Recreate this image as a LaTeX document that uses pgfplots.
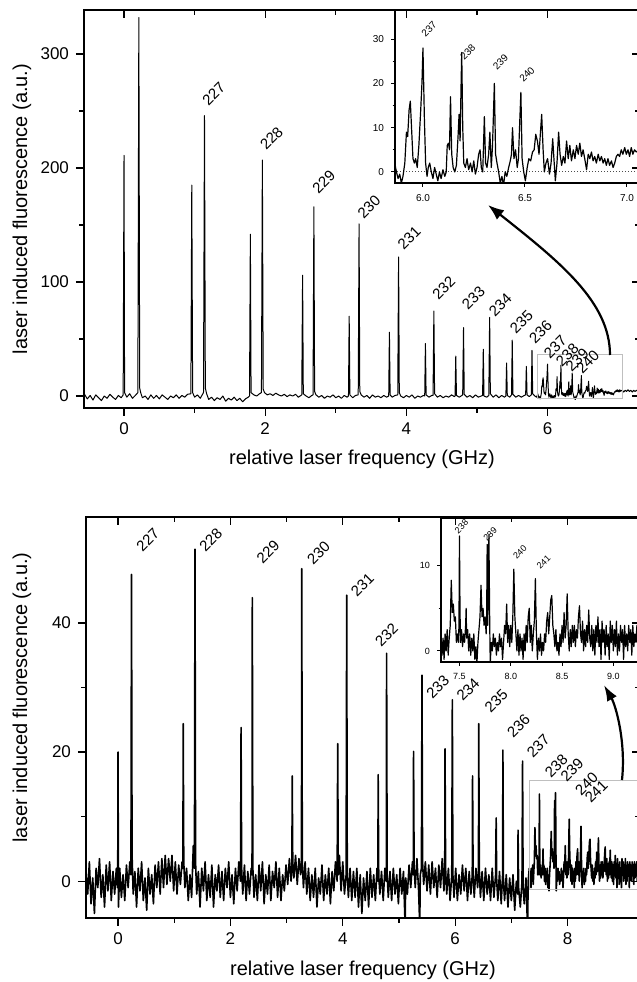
\documentclass[border=0pt]{standalone}
\usepackage{pgfplots}
\pgfplotsset{compat=1.18}
\usepackage{pgfplotstable}
\usepackage{fontspec}
\setmainfont{Liberation Sans}
\usetikzlibrary{arrows.meta}

% upper spectrum (scan 1)
\pgfplotstableread[row sep=\\]{
x y\\
-0.56 1.5\\ -0.52 -2.5\\ -0.48 0.5\\ -0.44 -3.5\\ -0.40 1\\ -0.36 -1.5\\ -0.32 -4\\ -0.28 0\\ -0.24 -2\\ -0.20 1.5\\ -0.16 -1\\ -0.12 -3\\ -0.08 0.5\\ -0.04 -1.5\\ -0.012 1\\
0 211\\ 0.008 3\\ 0.04 -1\\ 0.08 2\\ 0.12 -2\\ 0.16 0.5\\ 0.196 3\\ 0.21 332\\ 0.222 7\\ 0.236 3\\ 0.26 -1.5\\ 0.30 0\\ 0.34 -3\\ 0.38 1\\ 0.42 -2\\ 0.46 0.5\\ 0.50 -2.5\\ 0.54 1\\ 0.58 -1\\ 0.62 -3\\ 0.66 0\\ 0.70 -1.5\\ 0.74 1\\ 0.78 -2\\ 0.82 0.5\\ 0.86 -1\\ 0.90 1.5\\
0.947 2\\ 0.96 185\\ 0.972 3\\ 1.00 -1\\ 1.04 1\\ 1.08 -2\\ 1.126 3\\ 1.14 246\\ 1.152 7\\ 1.17 2\\ 1.20 -3\\ 1.24 -1\\ 1.28 -4\\ 1.32 -1.5\\ 1.36 -3\\ 1.40 0\\ 1.44 -4.5\\ 1.48 -2\\ 1.52 -3.5\\ 1.56 -1\\ 1.60 -4\\ 1.64 -2\\ 1.68 -5\\ 1.72 -2.5\\ 1.76 -1\\
1.778 0\\ 1.79 142\\ 1.80 3\\ 1.84 1\\ 1.88 0\\ 1.92 2\\ 1.947 3\\ 1.96 207\\ 1.972 6\\ 1.99 3\\ 2.03 1\\ 2.07 2\\ 2.11 0.5\\ 2.15 2.5\\ 2.19 1\\ 2.23 0\\ 2.27 1.5\\ 2.31 -0.5\\ 2.35 1\\ 2.39 0\\ 2.43 1.5\\ 2.47 -1\\
2.518 1\\ 2.53 106\\ 2.54 2\\ 2.58 0\\ 2.62 -1.5\\ 2.66 0.5\\ 2.678 1\\ 2.69 166\\ 2.70 4\\ 2.72 1\\ 2.76 -1\\ 2.80 0.5\\ 2.84 -2\\ 2.88 0\\ 2.92 -1\\ 2.96 1\\ 3.00 -1.5\\ 3.04 0\\ 3.08 -2\\ 3.12 0.5\\ 3.16 -1\\
3.18 0\\ 3.19 70\\ 3.20 1\\ 3.24 -1.5\\ 3.28 0.5\\ 3.318 1\\ 3.33 151\\ 3.34 4\\ 3.36 1\\ 3.40 -1\\ 3.44 0.5\\ 3.48 -2\\ 3.52 1\\ 3.56 -1\\ 3.60 0\\ 3.64 -1.5\\ 3.68 0.5\\ 3.72 -1\\
3.75 0\\ 3.76 56\\ 3.77 1\\ 3.80 -1\\ 3.84 0.5\\ 3.878 1\\ 3.89 122\\ 3.90 3\\ 3.92 0\\ 3.96 -1.5\\ 4.00 0.5\\ 4.04 -1\\ 4.08 1\\ 4.12 -2\\ 4.16 0\\ 4.20 -1\\ 4.24 0.5\\
4.26 0\\ 4.27 46\\ 4.28 1\\ 4.32 -1\\ 4.36 0.5\\ 4.378 0.5\\ 4.39 74.5\\ 4.40 2\\ 4.44 -1\\ 4.48 0.5\\ 4.52 -1.5\\ 4.56 0\\ 4.60 -1\\ 4.64 1\\ 4.68 -0.5\\
4.69 0\\ 4.70 35\\ 4.71 0.5\\ 4.75 -1\\ 4.798 1\\ 4.81 60\\ 4.82 1.5\\ 4.86 -1\\ 4.90 0.5\\ 4.94 -1.5\\ 4.98 1\\ 5.02 -1\\ 5.06 0\\
5.08 0.5\\ 5.09 41\\ 5.10 0\\ 5.14 -1\\ 5.168 0.5\\ 5.18 69\\ 5.19 2\\ 5.23 -1\\ 5.27 1\\ 5.31 -1.5\\ 5.35 0.5\\ 5.39 -1\\
5.41 0\\ 5.42 29\\ 5.43 0.5\\ 5.465 -1\\ 5.49 1\\ 5.50 49\\ 5.51 1.5\\ 5.55 -1\\ 5.59 0.5\\ 5.63 -1\\ 5.67 0.5\\
5.69 1\\ 5.70 26\\ 5.71 1\\ 5.74 -0.5\\ 5.77 1\\ 5.78 40\\ 5.79 2\\ 5.82 0\\ 5.845 -1\\
5.862 1.9\\ 5.870 0\\ 5.878 -1.5\\ 5.886 -0.5\\ 5.894 -2.5\\ 5.902 -1\\ 5.911 2\\ 5.919 9\\ 5.925 8\\ 5.932 14\\ 5.938 16\\ 5.945 9\\ 5.951 3\\ 5.958 2\\ 5.964 3\\ 5.972 1\\ 5.980 6\\ 5.989 14\\ 5.995 20\\ 6.000 28\\ 6.007 12\\ 6.013 2\\ 6.020 -1\\ 6.026 1\\ 6.033 2\\ 6.041 0\\ 6.049 -1.5\\ 6.057 1\\ 6.065 -0.5\\ 6.073 -2\\ 6.081 0\\ 6.089 -1.5\\ 6.098 0.5\\ 6.107 -1\\ 6.114 0\\
6.119 6\\ 6.125 6.5\\ 6.130 5\\ 6.135 17\\ 6.141 4\\ 6.148 1\\ 6.156 0\\ 6.164 1.5\\ 6.172 8\\ 6.177 13\\ 6.182 7\\ 6.187 20\\ 6.190 27\\ 6.195 10\\ 6.200 2\\ 6.208 1\\ 6.216 3\\ 6.224 0.5\\ 6.233 2\\ 6.241 0\\ 6.249 2.5\\ 6.257 -0.5\\ 6.265 1\\ 6.273 4\\ 6.280 5\\ 6.286 1\\ 6.293 0\\
6.301 12.5\\ 6.307 2\\ 6.314 1\\ 6.322 4\\ 6.328 9\\ 6.335 1\\ 6.341 6\\ 6.350 20\\ 6.356 4\\ 6.363 2\\ 6.371 0\\ 6.379 -2.5\\ 6.387 -1\\ 6.395 -3\\ 6.403 0\\ 6.411 -1\\ 6.420 1\\ 6.428 2.5\\ 6.434 4\\ 6.439 10\\ 6.446 3\\ 6.454 5\\ 6.462 1\\ 6.468 3\\ 6.475 12\\ 6.480 18\\ 6.486 3\\ 6.494 0\\ 6.502 -2\\
6.511 1\\ 6.519 3\\ 6.528 2.5\\ 6.537 4.5\\ 6.545 5\\ 6.553 8.5\\ 6.561 7\\ 6.569 4\\ 6.576 9\\ 6.582 13\\ 6.589 5\\ 6.595 0\\ 6.603 2\\ 6.611 3\\ 6.620 -0.5\\ 6.628 2\\ 6.636 7.5\\ 6.642 3\\ 6.649 -2\\ 6.657 2\\ 6.665 9\\ 6.672 4\\ 6.680 1.5\\ 6.688 3.5\\ 6.696 2\\ 6.704 7\\ 6.712 3\\ 6.720 6\\ 6.728 2.5\\ 6.737 5\\ 6.745 3\\ 6.753 6\\ 6.761 4\\ 6.769 6.5\\ 6.777 3.5\\ 6.785 5\\ 6.793 3\\ 6.802 0.5\\
6.810 4\\ 6.818 3\\ 6.826 4.5\\ 6.834 2.5\\ 6.842 3.5\\ 6.850 2\\ 6.859 4\\ 6.867 2.5\\ 6.875 3.5\\ 6.883 2\\ 6.891 3\\ 6.899 1.5\\ 6.907 3\\ 6.915 1.5\\ 6.924 2.5\\ 6.932 1\\ 6.940 2\\ 6.948 3.5\\ 6.956 4\\ 6.964 3.5\\ 6.972 5\\ 6.980 4\\ 6.989 5.5\\ 6.997 4\\ 7.005 5\\ 7.013 3.5\\ 7.021 5.5\\ 7.029 4\\ 7.037 5\\ 7.046 4.5\\
7.06 5\\ 7.08 3.5\\ 7.10 5\\ 7.12 4\\ 7.14 5.5\\ 7.16 4\\ 7.18 5\\ 7.20 3.5\\ 7.22 5\\ 7.24 4\\ 7.26 5\\ 7.28 4\\ 7.30 4.5\\ 7.32 4\\
}\topdata

% lower spectrum (scan 2)
\pgfplotstableread[row sep=\\]{
x y\\
-0.57 1.5\\ -0.54 -2\\ -0.51 3\\ -0.48 -3.5\\ -0.45 0.5\\ -0.42 -5\\ -0.39 2\\ -0.36 -1\\ -0.33 3.5\\ -0.30 -2.5\\ -0.27 1\\ -0.24 -4\\ -0.21 2.5\\ -0.18 -1.5\\ -0.15 3\\ -0.12 -3\\ -0.09 1.5\\ -0.06 -2\\ -0.03 2\\ -0.01 -1\\
-0.005 1\\ 0 20\\ 0.008 -4\\ 0.03 2\\ 0.06 -2.5\\ 0.09 1\\ 0.12 -3\\ 0.15 2.5\\ 0.18 -1\\ 0.21 3\\ 0.23 1\\ 0.24 47.5\\ 0.25 4\\ 0.27 -2\\ 0.30 1.5\\ 0.33 -4\\ 0.36 2\\ 0.39 -1.5\\ 0.42 3\\ 0.45 -3\\ 0.48 0.5\\ 0.51 -4.5\\ 0.54 2\\ 0.57 -2\\ 0.60 1\\ 0.63 -3.5\\ 0.66 2.5\\ 0.69 -1\\ 0.72 3\\ 0.75 -2\\ 0.78 3.5\\ 0.81 -1\\ 0.84 4\\ 0.87 -0.5\\ 0.90 3.5\\ 0.93 0\\ 0.96 4\\ 0.99 -1.5\\ 1.02 3\\ 1.05 -2\\ 1.08 2.5\\ 1.11 -0.5\\ 1.14 3\\
1.155 2\\ 1.16 24.4\\ 1.17 3\\ 1.19 -1\\ 1.22 2\\ 1.25 -3\\ 1.28 1\\ 1.31 -2.5\\ 1.34 5.5\\ 1.36 2\\ 1.37 51.4\\ 1.38 3\\ 1.40 -2\\ 1.43 1.5\\ 1.46 -4\\ 1.49 2\\ 1.52 -1.5\\ 1.55 3\\ 1.58 -3\\ 1.61 1\\ 1.64 -2.5\\ 1.67 2.5\\ 1.70 -4\\ 1.73 1\\ 1.76 -1.5\\ 1.79 2.5\\ 1.82 -2.5\\ 1.85 1.5\\ 1.88 -3\\ 1.91 2\\ 1.94 -1\\ 1.97 3\\ 2.00 -2.5\\ 2.03 1\\ 2.06 -3.5\\ 2.09 2\\ 2.12 -1.5\\ 2.15 3\\
2.18 0\\ 2.19 23.8\\ 2.20 2\\ 2.22 -2\\ 2.25 2.5\\ 2.28 -3\\ 2.31 1.5\\ 2.34 -2\\ 2.37 2\\ 2.385 1\\ 2.39 43.9\\ 2.40 2\\ 2.42 -2.5\\ 2.45 1\\ 2.48 -3\\ 2.51 2.5\\ 2.54 -1.5\\ 2.57 3\\ 2.60 -3.5\\ 2.63 1\\ 2.66 -2\\ 2.69 2.5\\ 2.72 -3\\ 2.75 1.5\\ 2.78 -1\\ 2.81 3\\ 2.84 -2.5\\ 2.87 2\\ 2.90 -3\\ 2.93 1\\ 2.96 -1.5\\ 2.99 2.5\\ 3.02 -0.5\\ 3.05 3.5\\ 3.08 0\\
3.095 2\\ 3.10 16.3\\ 3.11 3\\ 3.13 0.5\\ 3.16 4\\ 3.19 -0.5\\ 3.22 3.5\\ 3.25 1\\ 3.265 2\\ 3.27 48.4\\ 3.28 3\\ 3.30 -1\\ 3.33 3\\ 3.36 -2\\ 3.39 2\\ 3.42 -3\\ 3.45 1\\ 3.48 -2.5\\ 3.51 2\\ 3.54 -4\\ 3.57 0.5\\ 3.60 -2\\ 3.63 2.5\\ 3.66 -3\\ 3.69 1\\ 3.72 -2\\ 3.75 2\\ 3.78 -3.5\\ 3.81 1.5\\ 3.84 -1.5\\ 3.87 3\\
3.90 0\\ 3.91 21.3\\ 3.92 1\\ 3.94 4\\ 3.97 -1.5\\ 4.00 3\\ 4.03 -2\\ 4.06 1\\ 4.07 44.3\\ 4.08 1\\ 4.10 -2.5\\ 4.13 2\\ 4.16 -3\\ 4.19 1.5\\ 4.22 -2.5\\ 4.25 2\\ 4.28 -4\\ 4.31 1\\ 4.34 -5\\ 4.37 0.5\\ 4.40 -3\\ 4.43 1.5\\ 4.46 -4\\ 4.49 2\\ 4.52 -2.5\\ 4.55 1\\ 4.58 -3\\ 4.61 2\\
4.625 0\\ 4.63 16.5\\ 4.64 1\\ 4.66 -2\\ 4.69 1.5\\ 4.72 -3\\ 4.75 2\\ 4.775 0\\ 4.78 35.3\\ 4.79 1\\ 4.81 -2.5\\ 4.84 1.5\\ 4.87 -3\\ 4.90 2\\ 4.93 -2\\ 4.96 1\\ 4.99 -3.5\\ 5.02 2\\ 5.05 -2\\ 5.08 1.5\\ 5.11 -7\\ 5.12 0.5\\ 5.15 -2\\ 5.18 2.5\\ 5.21 -1\\ 5.24 3\\
5.255 1\\ 5.26 20.1\\ 5.27 2\\ 5.29 -1\\ 5.32 3.5\\ 5.35 -1.5\\ 5.37 -7\\ 5.38 1\\ 5.40 2\\ 5.41 31.9\\ 5.42 3\\ 5.44 -0.5\\ 5.47 3\\ 5.50 -1.5\\ 5.53 2.5\\ 5.56 -2\\ 5.59 3\\ 5.62 -1\\ 5.65 2\\ 5.68 -2.5\\ 5.71 2.5\\ 5.74 -1\\ 5.77 3.5\\ 5.80 -1.5\\
5.815 1\\ 5.82 20.5\\ 5.83 2\\ 5.85 -2\\ 5.88 2\\ 5.91 -3\\ 5.94 1\\ 5.95 28.1\\ 5.96 1\\ 5.98 -2.5\\ 6.01 2\\ 6.04 -3\\ 6.07 1\\ 6.10 -2\\ 6.13 2.5\\ 6.16 -1.5\\ 6.19 2\\ 6.22 -3\\ 6.25 1.5\\ 6.28 -2\\
6.305 1\\ 6.31 16.3\\ 6.32 1\\ 6.34 -2.5\\ 6.37 2\\ 6.40 -1\\ 6.415 1\\ 6.42 24.4\\ 6.43 2\\ 6.45 -2.5\\ 6.48 1.5\\ 6.51 -3\\ 6.54 2\\ 6.57 -2\\ 6.60 1\\ 6.63 -3\\ 6.66 2\\ 6.69 -2.5\\ 6.72 1\\
6.73 9.8\\ 6.74 0\\ 6.76 -3\\ 6.79 1.5\\ 6.82 -3.5\\ 6.845 1\\ 6.85 20.3\\ 6.86 0\\ 6.88 -3\\ 6.91 1\\ 6.94 -4\\ 6.97 0.5\\ 7.00 -3\\ 7.03 1\\ 7.06 -4.5\\ 7.09 0\\ 7.115 -2\\ 7.12 7.9\\ 7.13 -1\\ 7.16 -4\\ 7.19 0\\ 7.20 18.6\\ 7.21 -1\\ 7.23 -3.5\\ 7.26 0.5\\ 7.28 -5\\ 7.29 -7\\ 7.30 0\\
7.32 2\\ 7.33 -0.5\\ 7.34 1.5\\ 7.35 -1\\ 7.36 2\\ 7.37 0\\ 7.38 2.5\\ 7.39 -0.5\\ 7.40 1.5\\ 7.41 3\\ 7.42 8.3\\ 7.43 4.5\\ 7.44 5.5\\ 7.45 3.5\\ 7.46 4\\ 7.47 1\\ 7.48 2\\ 7.49 1\\ 7.495 3\\ 7.50 13.5\\ 7.505 5\\ 7.51 1\\ 7.52 2.5\\ 7.53 0.5\\ 7.54 2\\ 7.55 1\\ 7.56 3\\ 7.565 5\\ 7.57 1.5\\ 7.58 2.5\\ 7.59 0\\ 7.60 2\\ 7.61 -0.5\\ 7.62 1.5\\ 7.63 0\\ 7.64 2\\ 7.65 -1\\ 7.66 0.5\\ 7.67 -1.5\\ 7.68 1\\ 7.69 2.5\\ 7.70 4\\ 7.71 7.7\\ 7.72 4\\ 7.73 5\\ 7.74 3\\ 7.75 4\\ 7.76 2\\ 7.765 4\\ 7.77 12.5\\ 7.775 3\\ 7.78 6\\ 7.787 13.7\\ 7.795 3\\ 7.80 -1.5\\
7.81 1\\ 7.82 0\\ 7.83 2\\ 7.84 0.5\\ 7.85 1.5\\ 7.86 -0.5\\ 7.87 1\\ 7.88 0\\ 7.89 2\\ 7.90 0.5\\ 7.91 1.5\\ 7.92 -1\\ 7.93 1\\ 7.94 3\\ 7.95 2\\ 7.96 5.5\\ 7.97 1\\ 7.98 3\\ 7.99 0.5\\ 8.00 3\\ 8.01 1\\ 8.02 4\\ 8.03 9.6\\ 8.04 4\\ 8.05 2\\ 8.06 0\\ 8.07 2.5\\ 8.08 -0.5\\ 8.09 2\\ 8.10 0\\ 8.11 1.5\\ 8.12 -1\\ 8.13 2\\ 8.14 0\\ 8.15 3\\ 8.16 1\\ 8.17 4\\ 8.18 5\\ 8.19 1\\ 8.20 3\\ 8.21 0\\ 8.22 2\\ 8.23 3.5\\ 8.24 8.5\\ 8.25 2\\ 8.26 -1\\
8.27 1.5\\ 8.28 0\\ 8.29 2\\ 8.30 -0.5\\ 8.31 1\\ 8.32 0\\ 8.33 2\\ 8.34 1\\ 8.35 3.5\\ 8.36 4.5\\ 8.37 2\\ 8.38 4\\ 8.39 6\\ 8.40 6.5\\ 8.41 3\\ 8.42 2\\ 8.43 0.5\\ 8.44 2.5\\ 8.45 0\\ 8.46 1\\ 8.47 -0.5\\ 8.48 2\\ 8.49 0.5\\ 8.50 3\\ 8.51 1\\ 8.52 4.5\\ 8.53 1.5\\ 8.54 3\\ 8.55 6.7\\ 8.56 2\\ 8.57 0\\ 8.58 2.5\\ 8.59 0.5\\ 8.60 3\\ 8.61 1\\ 8.62 3\\ 8.63 0.5\\ 8.64 2.5\\ 8.65 1.5\\ 8.66 4\\ 8.67 5.3\\ 8.68 2\\ 8.69 1\\ 8.70 3.5\\ 8.71 0\\ 8.72 2.5\\ 8.73 0.5\\ 8.74 3\\ 8.75 1\\ 8.76 4.8\\ 8.77 1.5\\ 8.78 0.5\\
8.79 3\\ 8.80 0\\ 8.81 2.5\\ 8.82 -0.5\\ 8.83 3\\ 8.84 1\\ 8.85 4\\ 8.86 0.5\\ 8.87 2.5\\ 8.88 -1\\ 8.89 3.5\\ 8.90 1\\ 8.91 2.5\\ 8.92 -0.5\\ 8.93 3\\ 8.94 0.5\\ 8.95 2\\ 8.96 -1\\ 8.97 3.5\\ 8.98 1\\ 8.99 3\\ 9.00 0\\ 9.01 2.5\\ 9.02 0.5\\ 9.03 3.5\\ 9.04 -0.5\\ 9.05 2\\ 9.06 0\\ 9.07 3\\ 9.08 1\\ 9.09 2.5\\ 9.10 -1\\ 9.11 3\\ 9.12 0.5\\ 9.13 2\\ 9.14 0\\ 9.15 3\\ 9.16 1\\ 9.17 2.5\\ 9.18 -0.5\\ 9.19 3\\ 9.20 0.5\\ 9.21 2\\ 9.22 1\\ 9.23 3\\ 9.24 0\\ 9.25 2\\ 9.26 1\\ 9.28 2.5\\ 9.30 0\\
}\botdata

\pgfplotsset{
  panel/.style={scale only axis, axis line style={line width=0.8pt},
    tick style={line width=0.6pt, black}, major tick length=4pt, minor tick length=2.4pt,
    tick align=outside, tick pos=left, minor x tick num=1, minor y tick num=1,
    /pgf/number format/assume math mode=true,
    tick label style={font=\fontsize{8.5}{10}\selectfont},
    label style={font=\fontsize{10}{12}\selectfont}},
  mirror/.style={scale only axis, axis line style={line width=0.8pt},
    tick style={line width=0.6pt, black}, major tick length=4pt, minor tick length=2.4pt,
    tick align=inside, tick pos=right, minor x tick num=1, minor y tick num=1,
    xticklabels={}, yticklabels={}},
  inset/.style={scale only axis, axis line style={line width=0.6pt},
    tick style={line width=0.5pt, black}, major tick length=2pt, minor tick length=1.2pt,
    tick align=outside, tick pos=left, minor y tick num=1,
    /pgf/number format/assume math mode=true,
    tick label style={font=\fontsize{5}{6}\selectfont},
    xticklabel style={/pgf/number format/.cd, fixed, fixed zerofill, precision=1}},
  trace/.style={black, line width=0.5pt, line join=round},
}
\tikzset{
  lab/.style={font=\fontsize{7.5}{8}\selectfont, rotate=45, inner sep=0pt},
  slab/.style={font=\fontsize{5}{6}\selectfont, rotate=45, inner sep=0pt},
}

\begin{document}
\begin{tikzpicture}
\useasboundingbox (0,0) rectangle (318.5pt,491pt);
\clip (0,0) rectangle (318.5pt,491pt);

% ---- upper panel
\begin{axis}[panel, at={(42pt,287pt)}, anchor=south west, width=278pt, height=199pt,
  xmin=-0.567, xmax=7.31, ymin=-10.5, ymax=338.6,
  xtick={0,2,4,6}, ytick={0,100,200,300},
  xlabel={relative laser frequency (GHz)}, ylabel={laser induced fluorescence (a.u.)},
  xlabel style={at={(axis description cs:0.5,-0.13)}, anchor=center},
  ylabel style={at={(axis description cs:-0.1115,0.5)}, anchor=center}]
\addplot[trace] table[x=x, y=y] {\topdata};
\draw[gray!50, line width=0.6pt] (axis cs:5.86,-2.5) rectangle (axis cs:7.06,36.6);
\node[lab] at (axis cs:1.27,265) {227};
\node[lab] at (axis cs:2.09,226) {228};
\node[lab] at (axis cs:2.83,188) {229};
\node[lab] at (axis cs:3.47,166) {230};
\node[lab] at (axis cs:4.04,139) {231};
\node[lab] at (axis cs:4.53,95) {232};
\node[lab] at (axis cs:4.95,86) {233};
\node[lab] at (axis cs:5.33,80) {234};
\node[lab] at (axis cs:5.63,65) {235};
\node[lab] at (axis cs:5.90,56) {236};
\node[lab] at (axis cs:6.11,43) {237};
\node[lab] at (axis cs:6.28,36) {238};
\node[lab] at (axis cs:6.42,32) {239};
\node[lab] at (axis cs:6.57,30) {240};
\end{axis}
\begin{axis}[mirror, at={(42pt,287pt)}, anchor=south west, width=278pt, height=199pt,
  xmin=-0.567, xmax=7.31, ymin=-10.5, ymax=338.6,
  xtick={0,2,4,6}, ytick={0,100,200,300}]
\end{axis}

% upper inset
\begin{axis}[inset, at={(197.5pt,399.5pt)}, anchor=south west, width=122.5pt, height=86.5pt,
  xmin=5.863, xmax=7.064, ymin=-2.5, ymax=36.6,
  xtick={6,6.5,7}, ytick={0,10,20,30}]
\addplot[densely dotted, line width=0.5pt, black!70] coordinates {(5.8,0) (7.1,0)};
\addplot[trace, line width=0.6pt] table[x=x, y=y] {\topdata};
\node[slab] at (axis cs:6.03,32.3) {237};
\node[slab] at (axis cs:6.22,27) {238};
\node[slab] at (axis cs:6.38,24.9) {239};
\node[slab] at (axis cs:6.51,22) {240};
\end{axis}

% ---- lower panel
\begin{axis}[panel, at={(43pt,32pt)}, anchor=south west, width=277pt, height=200.5pt,
  xmin=-0.57, xmax=9.29, ymin=-5.7, ymax=56.4,
  xtick={0,2,4,6,8}, ytick={0,20,40},
  xlabel={relative laser frequency (GHz)}, ylabel={laser induced fluorescence (a.u.)},
  xlabel style={at={(axis description cs:0.5,-0.13)}, anchor=center},
  ylabel style={at={(axis description cs:-0.1155,0.55)}, anchor=center}]
\addplot[trace, line width=0.8pt] table[x=x, y=y] {\botdata};
\draw[gray!50, line width=0.6pt] (axis cs:7.32,-1.3) rectangle (axis cs:9.26,15.6);
\node[lab] at (axis cs:0.53,52.9) {227};
\node[lab] at (axis cs:1.65,52.9) {228};
\node[lab] at (axis cs:2.67,51.0) {229};
\node[lab] at (axis cs:3.57,50.9) {230};
\node[lab] at (axis cs:4.35,45.9) {231};
\node[lab] at (axis cs:4.78,38.2) {232};
\node[lab] at (axis cs:5.69,30.1) {233};
\node[lab] at (axis cs:6.23,29.7) {234};
\node[lab] at (axis cs:6.73,27.9) {235};
\node[lab] at (axis cs:7.13,24.1) {236};
\node[lab] at (axis cs:7.48,21.0) {237};
\node[lab] at (axis cs:7.80,17.9) {238};
\node[lab] at (axis cs:8.08,17.2) {239};
\node[lab] at (axis cs:8.34,15.1) {240};
\node[lab] at (axis cs:8.51,13.9) {241};
\end{axis}
\begin{axis}[mirror, at={(43pt,32pt)}, anchor=south west, width=277pt, height=200.5pt,
  xmin=-0.57, xmax=9.29, ymin=-5.7, ymax=56.4,
  xtick={0,2,4,6,8}, ytick={0,20,40}]
\end{axis}

% lower inset
\begin{axis}[inset, at={(220.5pt,160pt)}, anchor=south west, width=99.5pt, height=72pt,
  xmin=7.32, xmax=9.26, ymin=-1.3, ymax=15.6,
  xtick={7.5,8,8.5,9}, ytick={0,10},
  tick label style={font=\fontsize{4.5}{5}\selectfont}]
\addplot[trace, line width=0.6pt] table[x=x, y=y] {\botdata};
\node[slab, font=\fontsize{4.5}{5}\selectfont] at (axis cs:7.52,14.6) {238};
\node[slab, font=\fontsize{4.5}{5}\selectfont] at (axis cs:7.80,13.7) {239};
\node[slab, font=\fontsize{4.5}{5}\selectfont] at (axis cs:8.09,11.6) {240};
\node[slab, font=\fontsize{4.5}{5}\selectfont] at (axis cs:8.32,10.4) {241};
\end{axis}

% arrows from the marked regions to the insets
\draw[line width=1.1pt, -{Latex[length=8pt,width=6pt]}]
  (305pt,313.5pt) .. controls (305pt,340pt) and (280pt,360pt) .. (244pt,388.5pt);
\draw[line width=1.1pt, -{Latex[length=8pt,width=5.5pt]}]
  (311pt,101pt) .. controls (313pt,120pt) and (308pt,138pt) .. (302pt,148.5pt);
\end{tikzpicture}
\end{document}
